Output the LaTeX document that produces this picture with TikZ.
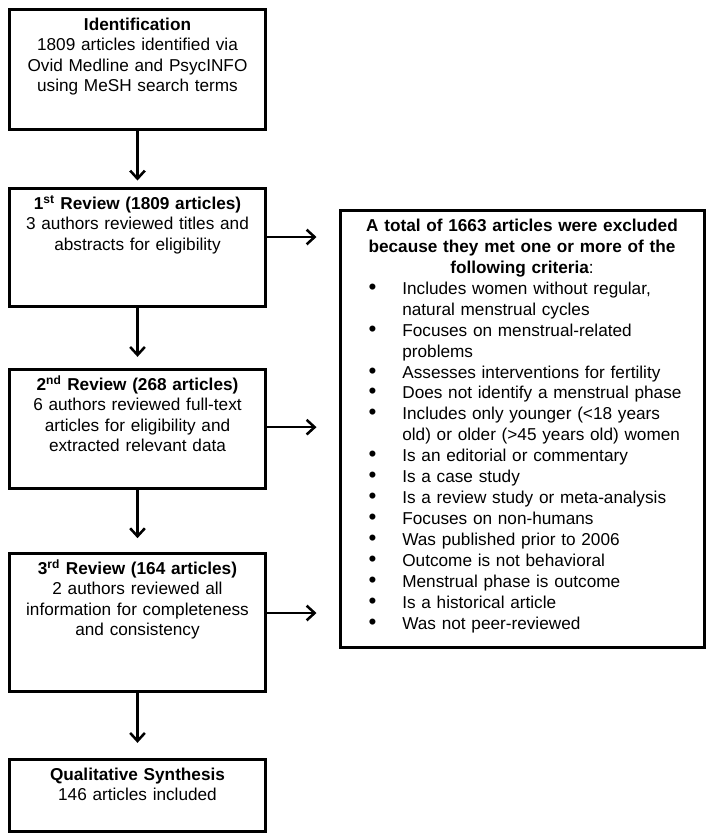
\documentclass[tikz,border=0pt]{standalone}
\usepackage{fontspec}
\setmainfont{Liberation Sans}
\usetikzlibrary{arrows.meta,positioning}

\newcommand{\critem}[1]{\par\hangindent=41.25pt\hangafter=1\noindent
  \makebox[41.25pt][l]{\hspace{16pt}\scalebox{1.3}{\textbullet}}#1}

\tikzset{
  box/.style={draw, line width=2.25pt, minimum width=192pt, inner sep=0pt},
  txt/.style={text width=190pt, align=center, inner sep=0pt, anchor=base,
    font=\fontsize{12.9}{15.2}\selectfont},
  arr/.style={line width=1.9pt, -{Straight Barb[length=6pt,width=11pt]}}
}

\begin{document}
\begin{tikzpicture}[x=0.75pt,y=-0.75pt]
  \useasboundingbox (0,0) rectangle (714,840);
  % boxes on the left
  \node[box, minimum height=90pt] (ident) at (137.5,69) {};
  \node[box, minimum height=88.5pt] (rev1) at (137.5,247) {};
  \node[box, minimum height=89.25pt] (rev2) at (137.5,428.5) {};
  \node[box, minimum height=103.5pt] (rev3) at (137.5,622) {};
  \node[box, minimum height=54pt] (synth) at (137.5,795) {};
  % box of exclusion criteria
  \node[box, minimum width=273pt, minimum height=327.75pt] (crit) at (522,428.5) {};

  \node[txt] (ident-t) at ([yshift=-17.25pt]ident.north)
    {\textbf{Identification}\\ 1809 articles identified via\\ Ovid Medline and PsycINFO\\ using MeSH search terms};
  \node[txt] (rev1-t) at ([yshift=-17.25pt]rev1.north)
    {\textbf{1\textsuperscript{st} Review (1809 articles)}\\ 3 authors reviewed titles and\\ abstracts for eligibility};
  \node[txt] (rev2-t) at ([yshift=-17.25pt]rev2.north)
    {\textbf{2\textsuperscript{nd} Review (268 articles)}\\ 6 authors reviewed full-text\\ articles for eligibility and\\ extracted relevant data};
  \node[txt] (rev3-t) at ([yshift=-17.25pt]rev3.north)
    {\textbf{3\textsuperscript{rd} Review (164 articles)}\\ 2 authors reviewed all\\ information for completeness\\ and consistency};
  \node[txt] (synth-t) at ([yshift=-17.25pt]synth.north)
    {\textbf{Qualitative Synthesis}\\ 146 articles included};

  \node[inner sep=0pt, anchor=base, text width=262pt,
    font=\fontsize{12.9}{15.7}\selectfont] (crit-t) at ([yshift=-17.25pt]crit.north) {%
    \parindent=0pt
    {\centering\bfseries A total of 1663 articles were excluded\\
      because they met one or more of the\\ following criteria\mdseries:\par}
    \raggedright
    \critem{Includes women without regular,\newline natural menstrual cycles}
    \critem{Focuses on menstrual-related\newline problems}
    \critem{Assesses interventions for fertility}
    \critem{Does not identify a menstrual phase}
    \critem{Includes only younger (<18 years\newline old) or older (>45 years old) women}
    \critem{Is an editorial or commentary}
    \critem{Is a case study}
    \critem{Is a review study or meta-analysis}
    \critem{Focuses on non-humans}
    \critem{Was published prior to 2006}
    \critem{Outcome is not behavioral}
    \critem{Menstrual phase is outcome}
    \critem{Is a historical article}
    \critem{Was not peer-reviewed}\par};

  % arrows down
  \draw[arr, shorten >=4.5pt] (ident) -- (rev1);
  \draw[arr, shorten >=8pt] (rev1) -- (rev2);
  \draw[arr, shorten >=10pt] (rev2) -- (rev3);
  \draw[arr, shorten >=11pt] (rev3) -- (synth);
  % arrows to the right
  \draw[arr, shorten >=16.5pt] ([yshift=7.5pt]rev1.east) -- ([yshift=7.5pt]rev1.east -| crit.west);
  \draw[arr, shorten >=16.5pt] ([yshift=1pt]rev2.east) -- ([yshift=1pt]rev2.east -| crit.west);
  \draw[arr, shorten >=16.5pt] ([yshift=6.75pt]rev3.east) -- ([yshift=6.75pt]rev3.east -| crit.west);
\end{tikzpicture}
\end{document}
